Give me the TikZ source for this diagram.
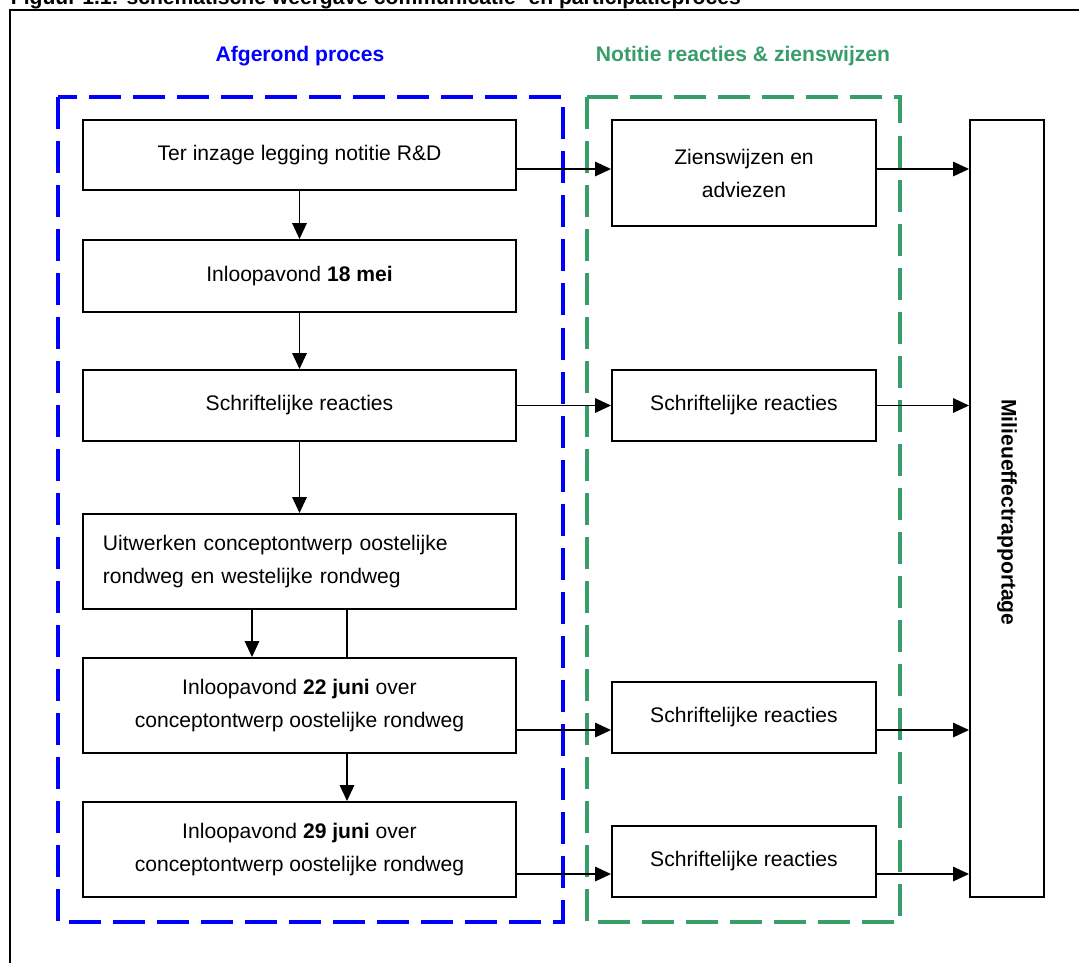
\documentclass[tikz,border=0pt]{standalone}
\usepackage{fontspec}
\setmainfont{Liberation Sans}
\usetikzlibrary{arrows.meta}
\definecolor{procesblauw}{RGB}{0,0,255}
\definecolor{notitiegroen}{RGB}{55,158,105}
\newcommand{\tekstmaat}{\fontsize{15}{23.5}\selectfont}

\begin{document}
\begin{tikzpicture}[x=0.025cm,y=-0.025cm,line width=1.3pt,>={Triangle[length=4mm,width=3.6mm]},
  box/.style={draw,line width=1.3pt,align=center,font=\tekstmaat,inner sep=2pt},
  linksbox/.style={box,minimum width=10.825cm},
  middenbox/.style={box,minimum width=6.6cm,minimum height=1.775cm},
  kop/.style={font=\tekstmaat\bfseries},
  kader/.style={line width=2.8pt,dash pattern=on 0.8cm off 0.3cm},
  pijl/.style={->,line width=1.3pt}]
  \useasboundingbox (0,0) rectangle (1079,962);
  \clip (0,0) rectangle (1079,962);
  % figuurtitel en omkadering
  \node[anchor=base west,inner sep=0,font=\tekstmaat\bfseries] (titel) at (10,4)
    {Figuur 1.1: schematische weergave communicatie- en participatieproces};
  \draw[line width=1.6pt] (10,970) -- (10,10) -- (1090,10);
  % kopjes en gestreepte kaders
  \node[kop,text=procesblauw] (kopproces) at (300,56) {Afgerond proces};
  \node[kop,text=notitiegroen] (kopnotitie) at (743,56) {Notitie reacties \& zienswijzen};
  \draw[kader,procesblauw] (58,97) rectangle (563,922);
  \draw[kader,notitiegroen] (587,97) rectangle (900,922);
  % afgerond proces
  \node[linksbox,minimum height=1.75cm] (inzage) at (299.5,155) {Ter inzage legging notitie R\&D};
  \node[linksbox,minimum height=1.8cm] (avond1) at (299.5,276) {Inloopavond \textbf{18 mei}};
  \node[linksbox,minimum height=1.775cm] (reactie1) at (299.5,405.5) {Schriftelijke reacties};
  \node[linksbox,minimum height=2.375cm,align=left,text width=9.825cm,inner xsep=0.5cm] (uitwerken) at (299.5,561.5)
    {Uitwerken conceptontwerp oostelijke\\rondweg en westelijke rondweg};
  \node[linksbox,minimum height=2.375cm] (avond2) at (299.5,705.5)
    {Inloopavond \textbf{22 juni} over\\conceptontwerp oostelijke rondweg};
  \node[linksbox,minimum height=2.375cm] (avond3) at (299.5,849.5)
    {Inloopavond \textbf{29 juni} over\\conceptontwerp oostelijke rondweg};
  % reacties en zienswijzen
  \node[middenbox,minimum height=2.65cm] (zienswijzen) at (744,173) {Zienswijzen en\\adviezen};
  \node[middenbox] (reactie2) at (744,405.5) {Schriftelijke reacties};
  \node[middenbox] (reactie3) at (744,717.5) {Schriftelijke reacties};
  \node[middenbox] (reactie4) at (744,861.5) {Schriftelijke reacties};
  % MER
  \node[box,minimum width=1.85cm,minimum height=19.425cm] (mer) at (1007,508.5) {};
  \node[rotate=-90,font=\tekstmaat\bfseries] (merlabel) at ([yshift=-0.1cm]mer) {Milieueffectrapportage};
  % verticale pijlen
  \draw[pijl] (inzage.south) -- (avond1.north);
  \draw[pijl] (avond1.south) -- (reactie1.north);
  \draw[pijl] (reactie1.south) -- (uitwerken.north);
  \draw[pijl] ([xshift=-1.1875cm]uitwerken.south) -- ([xshift=-1.1875cm]avond2.north);
  \draw ([xshift=1.1875cm]uitwerken.south) -- ([xshift=1.1875cm]avond2.north);
  \draw[pijl] ([xshift=1.1875cm]avond2.south) -- ([xshift=1.1875cm]avond3.north);
  % horizontale pijlen
  \coordinate (h1) at ([yshift=-0.35cm]inzage.east);
  \coordinate (h3) at ([yshift=-0.6125cm]avond2.east);
  \coordinate (h4) at ([yshift=-0.6125cm]avond3.east);
  \draw[pijl] (h1) -- (h1 -| zienswijzen.west);
  \draw[pijl] (h1 -| zienswijzen.east) -- (h1 -| mer.west);
  \draw[pijl] (reactie1.east) -- (reactie2.west);
  \draw[pijl] (reactie2.east) -- (reactie2.east -| mer.west);
  \draw[pijl] (h3) -- (h3 -| reactie3.west);
  \draw[pijl] (h3 -| reactie3.east) -- (h3 -| mer.west);
  \draw[pijl] (h4) -- (h4 -| reactie4.west);
  \draw[pijl] (h4 -| reactie4.east) -- (h4 -| mer.west);
\end{tikzpicture}
\end{document}
